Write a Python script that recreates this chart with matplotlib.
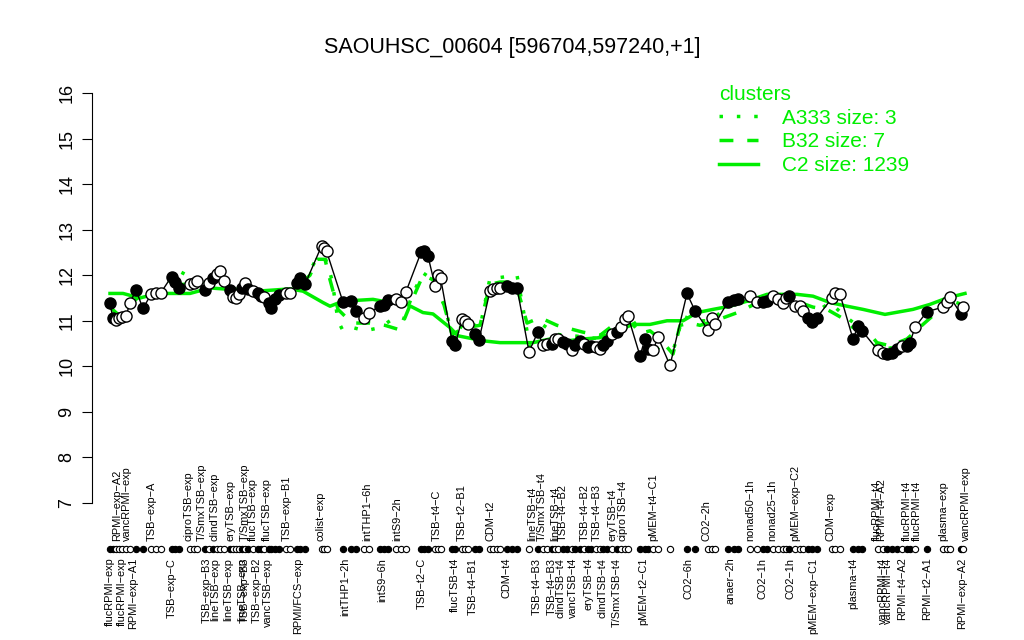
import matplotlib.pyplot as plt
from matplotlib.lines import Line2D

plt.rcParams['font.family'] = ['Liberation Sans', 'DejaVu Sans']

# sample positions along the x axis, expression values, filled(1)/open(0) marker
pos = [110, 113, 116, 119, 122, 126, 130, 136, 143,
       151, 156, 161,
       171.5, 175, 178.5,
       190, 194, 197,
       205, 209, 213, 217, 220, 224, 230, 233, 236, 239, 242, 245, 248, 253, 258, 261, 264, 269, 271, 275, 279,
       286, 290,
       297, 300, 305,
       321.5, 323.5, 326.5,
       343, 351, 356,
       364, 369,
       380, 384, 388,
       396, 401, 406,
       421, 423.5, 428,
       435, 438, 440.5,
       452, 455, 462, 465, 468, 475, 479,
       490, 493, 497, 500, 507, 512, 517,
       529,
       538, 543, 547, 552, 555, 558, 563, 567, 572, 575, 580, 584, 588, 591, 596, 600, 603, 607, 612, 617, 621, 625, 628,
       640, 645, 648, 653, 658,
       670,
       687, 695,
       708, 712, 715,
       728, 734, 738,
       750, 757, 763, 767, 773, 778, 783, 786, 789,
       795, 800, 803, 808, 812, 817,
       832, 835, 840,
       853, 858, 862,
       878, 883, 887, 892, 897, 902, 907, 910, 915,
       927,
       943, 947, 950,
       961, 963]
expr = [11.38, 11.05, 11.02, 11.05, 11.08, 11.1, 11.4, 11.67, 11.27,
        11.58, 11.6, 11.62,
        11.97, 11.85, 11.73,
        11.8, 11.84, 11.87,
        11.68, 11.82, 11.94, 12.02, 12.1, 11.88, 11.67, 11.52, 11.5, 11.58, 11.73, 11.84, 11.7, 11.65, 11.62, 11.55, 11.52, 11.38, 11.27, 11.48, 11.56,
        11.6, 11.62,
        11.83, 11.95, 11.8,
        12.64, 12.6, 12.53,
        11.41, 11.43, 11.22,
        11.07, 11.18,
        11.32, 11.35, 11.45,
        11.47, 11.42, 11.64,
        12.5, 12.53, 12.42,
        11.77, 12.0, 11.95,
        10.56, 10.47, 11.03, 11.0, 10.93, 10.7, 10.58,
        11.66, 11.7, 11.72, 11.72, 11.77, 11.73, 11.72,
        10.32,
        10.76, 10.46, 10.5, 10.5, 10.6, 10.6, 10.53, 10.5, 10.35, 10.46, 10.56, 10.5, 10.42, 10.45, 10.42, 10.38, 10.46, 10.55, 10.7, 10.75, 10.86, 11.03, 11.1,
        10.23, 10.6, 10.38, 10.35, 10.64,
        10.02,
        11.6, 11.22,
        10.8, 11.07, 10.93,
        11.42, 11.45, 11.48,
        11.54, 11.42, 11.42, 11.43, 11.55, 11.47, 11.38, 11.5, 11.55,
        11.33, 11.32, 11.22, 11.07, 10.98, 11.07,
        11.5, 11.62, 11.58,
        10.6, 10.88, 10.78,
        10.35, 10.3, 10.27, 10.3, 10.38, 10.45, 10.45, 10.52, 10.86,
        11.2,
        11.3, 11.42, 11.52,
        11.15, 11.3]
filled = [1, 1, 0, 0, 0, 0, 0, 1, 1,
          0, 0, 0,
          1, 1, 1,
          0, 0, 0,
          1, 0, 1, 0, 0, 0, 1, 0, 0, 0, 1, 0, 1, 0, 1, 1, 0, 1, 1, 1, 1,
          0, 0,
          1, 1, 1,
          0, 0, 0,
          1, 1, 1,
          0, 0,
          1, 1, 1,
          0, 0, 0,
          1, 1, 1,
          0, 0, 0,
          1, 1, 0, 0, 0, 1, 1,
          0, 0, 0, 0, 1, 1, 1,
          0,
          1, 0, 0, 1, 0, 0, 1, 1, 0, 1, 1, 0, 1, 1, 0, 0, 1, 1, 0, 1, 0, 0, 0,
          1, 1, 1, 0, 0,
          0,
          1, 1,
          0, 0, 0,
          1, 1, 1,
          0, 0, 1, 1, 0, 0, 0, 0, 1,
          0, 0, 0, 1, 1, 1,
          0, 0, 0,
          1, 1, 1,
          0, 0, 1, 1, 1, 0, 1, 1, 0,
          1,
          0, 0, 0,
          1, 0]

# cluster mean profiles
c2_pos = [110, 123, 140, 157, 190, 210, 223, 257, 290, 303, 323, 330, 343, 373, 390, 407, 423, 433,
          450, 458, 483, 500, 533, 550, 567, 583, 600, 617, 633, 650, 667, 683, 697, 713, 730, 747,
          767, 797, 813, 830, 847, 863, 885, 913, 930, 947, 965]
c2_val = [11.6, 11.6, 11.5, 11.6, 11.6, 11.72, 11.7, 11.65, 11.7, 11.65, 11.4, 11.32, 11.43, 11.47, 11.4,
          11.36, 11.18, 11.15, 10.85, 10.67, 10.56, 10.52, 10.52, 10.6, 10.56, 10.6, 10.63, 10.78, 10.92,
          10.92, 11.0, 11.0, 11.18, 11.25, 11.32, 11.43, 11.58, 11.58, 11.54, 11.4, 11.32, 11.25, 11.14,
          11.25, 11.36, 11.5, 11.6]
b32_pos = [110, 120, 130, 140, 150, 160, 175, 190, 200, 213, 225, 240, 255, 270, 285, 300, 310, 317,
           325, 330, 338, 345, 355, 370, 385, 400, 413, 423, 433, 443, 452, 465, 480, 490, 500, 515,
           520, 527, 540, 557, 583, 600, 613, 633, 640, 650, 660, 673, 680, 690, 700, 715, 740, 760,
           780, 800, 813, 827, 847, 853, 867, 877, 890, 907, 923, 940, 950, 963]
b32_val = [11.3, 11.1, 11.35, 11.55, 11.5, 11.6, 11.8, 11.8, 11.75, 11.95, 11.8, 11.65, 11.65, 11.45,
           11.55, 11.8, 12.0, 12.35, 12.35, 11.9, 11.25, 11.1, 10.95, 10.95, 10.9, 10.8, 11.5, 12.0,
           11.9, 11.43, 10.7, 10.85, 10.9, 11.8, 11.85, 11.85, 11.5, 10.95, 11.07, 10.9, 10.75, 10.68,
           10.9, 10.92, 10.72, 10.78, 10.6, 10.27, 10.9, 10.95, 10.9, 11.0, 11.2, 11.43, 11.5, 11.4,
           11.3, 11.25, 11.0, 10.85, 10.78, 10.52, 10.45, 10.6, 10.92, 11.25, 11.4, 11.5]
a333_pos = [110, 125, 140, 160, 180, 200, 213, 230, 250, 270, 290, 305, 315, 325, 332, 338, 343, 353,
            365, 380, 390, 403, 413, 423, 433, 445, 453, 465, 480, 490, 500, 517, 522, 530, 540, 557,
            583, 600, 613, 630, 645, 655, 670, 683, 695, 712, 730, 760, 790, 810, 830, 845, 860, 880,
            900, 915, 930, 950, 963]
a333_val = [11.3, 11.25, 11.6, 11.65, 12.08, 11.85, 12.0, 11.7, 11.7, 11.5, 11.6, 11.9, 12.3, 12.4,
            11.9, 11.0, 10.78, 10.85, 10.78, 10.85, 11.0, 11.0, 11.6, 12.05, 11.9, 11.3, 10.6, 11.0,
            10.85, 11.94, 11.95, 12.0, 11.4, 10.4, 10.95, 10.7, 10.65, 10.6, 10.85, 11.1, 10.6, 10.45,
            10.1, 11.1, 11.0, 11.0, 11.4, 11.45, 11.5, 11.1, 11.4, 11.1, 10.85, 10.35, 10.45, 10.8,
            11.2, 11.45, 11.35]

top_labels = ['RPMI\u2212exp\u2212A2', 'vancRPMI\u2212exp', 'TSB\u2212exp\u2212A', 'ciproTSB\u2212exp',
              'T/SmxTSB\u2212exp', 'clindTSB\u2212exp', 'eryTSB\u2212exp', 'T/SmxTSB\u2212exp',
              'flucTSB\u2212exp', 'flucTSB\u2212exp', 'TSB\u2212exp\u2212B1', 'colist\u2212exp',
              'intTHP1\u22126h', 'intS9\u22122h', 'TSB\u2212t4\u2212C', 'TSB\u2212t2\u2212B1', 'CDM\u2212t2',
              'lineTSB\u2212t4', 'T/SmxTSB\u2212t4', 'lineTSB\u2212t4', 'TSB\u2212t4\u2212B2',
              'TSB\u2212t4\u2212B2', 'TSB\u2212t4\u2212B3', 'eryTSB\u2212t4', 'ciproTSB\u2212t4',
              'pMEM\u2212t4\u2212C1', 'CO2\u22122h', 'nonad50\u22121h', 'nonad25\u22121h',
              'pMEM\u2212exp\u2212C2', 'CDM\u2212exp', 'flucRPMI\u2212t4', 'RPMI\u2212t4\u2212A2',
              'flucRPMI\u2212t4', 'flucRPMI\u2212t4', 'plasma\u2212exp', 'vancRPMI\u2212exp']
top_pos = [117, 127, 152, 188, 202, 215, 230, 245, 253, 267, 287, 320, 367, 397, 437, 462, 490,
           532, 542, 555, 563, 585, 597, 613, 622, 653, 707, 750, 772, 795, 830, 877, 881, 907, 917,
           943, 966]
bottom_labels = ['flucRPMI\u2212exp', 'flucRPMI\u2212exp', 'RPMI\u2212exp\u2212A1', 'TSB\u2212exp\u2212C',
                 'TSB\u2212exp\u2212B3', 'lineTSB\u2212exp', 'lineTSB\u2212exp', 'lineTSB\u2212exp',
                 'TSB\u2212exp\u2212B3', 'TSB\u2212exp\u2212B2', 'vancTSB\u2212exp', 'RPMI/FCS\u2212exp',
                 'intTHP1\u22122h', 'intS9\u22126h', 'TSB\u2212t2\u2212C', 'flucTSB\u2212t4',
                 'TSB\u2212t4\u2212B1', 'CDM\u2212t4', 'TSB\u2212t4\u2212B3', 'TSB\u2212t4\u2212B3',
                 'clindTSB\u2212t4', 'vancTSB\u2212t4', 'eryTSB\u2212t4', 'clindTSB\u2212t4',
                 'T/SmxTSB\u2212t4', 'pMEM\u2212t2\u2212C1', 'CO2\u22126h', 'anaer\u22122h', 'CO2\u22121h',
                 'CO2\u22121h', 'pMEM\u2212exp\u2212C1', 'plasma\u2212t4', 'vancRPMI\u2212t4',
                 'vancRPMI\u2212t4', 'RPMI\u2212t4\u2212A2', 'RPMI\u2212t2\u2212A1', 'RPMI\u2212exp\u2212A2']
bottom_pos = [110, 122, 133, 172, 207, 215, 228, 242, 245, 257, 268, 298, 345, 382, 422, 455, 473,
              507, 537, 552, 560, 573, 588, 603, 617, 643, 688, 730, 763, 790, 813, 853, 883, 888,
              902, 927, 962]

green = '#00ee00'

fig = plt.figure(figsize=(10.24, 6.4), dpi=100)
ax = fig.add_axes([92 / 1024, 1 - 503 / 640, 891 / 1024, 410 / 640])
ax.set_xlim(92, 983)
ax.set_ylim(7, 16)

ax.plot(c2_pos, c2_val, color=green, lw=2.5, zorder=2)
ax.plot(b32_pos, b32_val, color=green, lw=2.5, ls=(0, (4, 4)), zorder=2)
ax.plot(a333_pos, a333_val, color=green, lw=2.5, ls=(0, (1, 4)), zorder=2)

ax.plot(pos, expr, color='black', lw=1, zorder=3)
for p, v, f in zip(pos, expr, filled):
    fc = 'black' if f else 'white'
    ax.plot(p, v, 'o', ms=8, mfc=fc, mec='black', mew=1, zorder=4)
    ax.plot(p, 6.0, 'o', ms=4.5, mfc=fc, mec='black', mew=0.8, clip_on=False, zorder=4)

for lab, p in zip(top_labels, top_pos):
    ax.text(p, 6.17, lab, rotation=90, ha='center', va='bottom', fontsize=7.9, clip_on=False)
for lab, p in zip(bottom_labels, bottom_pos):
    ax.text(p, 5.8, lab, rotation=90, ha='center', va='top', fontsize=7.9, clip_on=False)

for s in ['top', 'right', 'bottom']:
    ax.spines[s].set_visible(False)
ax.set_xticks([])
ax.set_yticks(range(7, 17))
ax.tick_params(axis='y', length=7, labelsize=13, pad=5)
for t in ax.get_yticklabels():
    t.set_rotation(90)
    t.set_va('center')

fig.text(0.5, 1 - 47 / 640, 'SAOUHSC_00604 [596704,597240,+1]', ha='center', va='center', fontsize=15.5)

handles = [Line2D([], [], color=green, lw=2.5, ls=(0, (1, 4))),
           Line2D([], [], color=green, lw=2.5, ls=(0, (4, 4))),
           Line2D([], [], color=green, lw=2.5)]
leg = ax.legend(handles, ['A333 size: 3', 'B32 size: 7', 'C2 size: 1239'], title='clusters',
                loc='upper left', bbox_to_anchor=(0.683, 1.065), frameon=False, fontsize=15,
                title_fontsize=15, handlelength=1.85, handletextpad=1.15, labelspacing=0.22,
                alignment='left')
for t in leg.get_texts():
    t.set_color(green)
leg.get_title().set_color(green)

fig.savefig('out.png', dpi=100)
